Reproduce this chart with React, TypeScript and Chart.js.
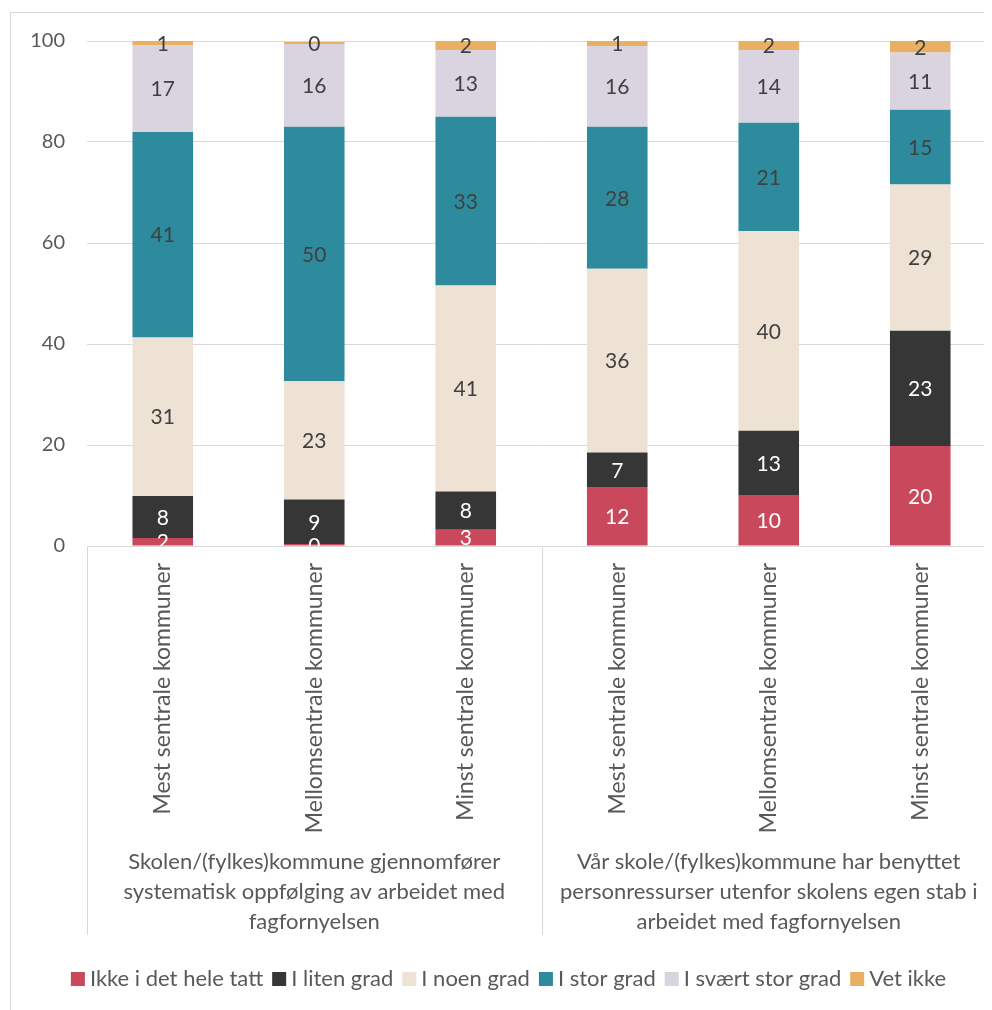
import React, { useEffect, useRef } from 'react';
import { Chart, registerables } from 'chart.js';

Chart.register(...registerables);

const categories = [
  'Mest sentrale kommuner',
  'Mellomsentrale kommuner',
  'Minst sentrale kommuner',
  'Mest sentrale kommuner',
  'Mellomsentrale kommuner',
  'Minst sentrale kommuner',
];

const groupLabels = [
  ['Skolen/(fylkes)kommune gjennomfører', 'systematisk oppfølging av arbeidet med', 'fagfornyelsen'],
  ['Vår skole/(fylkes)kommune har benyttet', 'personressurser utenfor skolens egen stab i', 'arbeidet med fagfornyelsen'],
];

const seriesNames = ['Ikke i det hele tatt', 'I liten grad', 'I noen grad', 'I stor grad', 'I svært stor grad', 'Vet ikke'];

const ikkeIDetHeleTatt = [1.6, 0.4, 3.2, 11.7, 10.1, 19.8];
const iLitenGrad = [8.3, 8.8, 7.6, 6.8, 12.7, 22.8];
const iNoenGrad = [31.4, 23.4, 40.8, 36.4, 39.6, 29.0];
const iStorGrad = [40.7, 50.4, 33.4, 28.1, 21.4, 14.8];
const iSvaertStorGrad = [17.2, 16.4, 13.2, 16.0, 14.4, 11.3];
const vetIkke = [0.8, 0.4, 1.8, 1.0, 1.8, 2.3];

const yTicks = [0, 20, 40, 60, 80, 100];

const seriesValues = [ikkeIDetHeleTatt, iLitenGrad, iNoenGrad, iStorGrad, iSvaertStorGrad, vetIkke];
const seriesColors = ['#C9485B', '#363636', '#EDE2D3', '#2E8B9D', '#DAD3E0', '#E9AF62'];
const labelColors = ['#FFFFFF', '#FFFFFF', '#404040', '#404040', '#404040', '#404040'];

const FONT = 'Lato, "Open Sans", sans-serif';

const overlayPlugin = {
  id: 'overlay',
  afterDatasetsDraw(chart: any) {
    const { ctx, chartArea } = chart;
    ctx.save();
    ctx.beginPath();
    ctx.rect(chartArea.left, chartArea.top - 20, chartArea.right - chartArea.left, chartArea.bottom - chartArea.top + 20);
    ctx.clip();
    ctx.font = `21px ${FONT}`;
    ctx.textAlign = 'center';
    ctx.textBaseline = 'middle';
    chart.data.datasets.forEach((ds: any, di: number) => {
      const meta = chart.getDatasetMeta(di);
      meta.data.forEach((bar: any, i: number) => {
        const v = ds.data[i];
        const cy = (bar.y + bar.base) / 2;
        ctx.fillStyle = labelColors[di];
        ctx.fillText(String(Math.round(v)), bar.x, cy + 1);
      });
    });
    ctx.restore();
  },
  afterDraw(chart: any) {
    const { ctx, chartArea, scales } = chart;
    const x = scales.x;
    ctx.save();
    ctx.strokeStyle = '#D9D9D9';
    ctx.lineWidth = 1;
    const mid = (x.getPixelForValue(2) + x.getPixelForValue(3)) / 2;
    const sepBottom = 922;
    [chartArea.left, mid, chartArea.right].forEach((px: number) => {
      const xx = Math.round(px) + 0.5;
      ctx.beginPath();
      ctx.moveTo(xx, chartArea.bottom);
      ctx.lineTo(xx, sepBottom);
      ctx.stroke();
    });
    ctx.font = `22px ${FONT}`;
    ctx.fillStyle = '#595959';
    ctx.textAlign = 'center';
    ctx.textBaseline = 'middle';
    const centers = [x.getPixelForValue(1), x.getPixelForValue(4)];
    groupLabels.forEach((lines, gi) => {
      lines.forEach((line, li) => {
        ctx.fillText(line, centers[gi], 849 + li * 30);
      });
    });
    const box = 14;
    const gapBoxText = 5;
    const gapItems = 9;
    ctx.font = `22px ${FONT}`;
    ctx.textAlign = 'left';
    const items = chart.data.datasets.map((ds: any) => ({
      text: ds.label,
      color: ds.backgroundColor,
      w: ctx.measureText(ds.label).width,
    }));
    const total =
      items.reduce((s: number, it: any) => s + box + gapBoxText + it.w, 0) + gapItems * (items.length - 1);
    let cx = 497.5 - total / 2;
    const cy = 966;
    items.forEach((it: any) => {
      ctx.fillStyle = it.color;
      ctx.fillRect(cx, cy - box / 2, box, box);
      cx += box + gapBoxText;
      ctx.fillStyle = '#595959';
      ctx.fillText(it.text, cx, cy);
      cx += it.w + gapItems;
    });
    ctx.restore();
  },
};

export default function App() {
  const canvasRef = useRef<HTMLCanvasElement | null>(null);

  useEffect(() => {
    if (!canvasRef.current) return;
    const chart = new Chart(canvasRef.current, {
      type: 'bar',
      data: {
        labels: categories,
        datasets: seriesNames.map((name, i) => ({
          label: name,
          data: seriesValues[i],
          backgroundColor: seriesColors[i],
          borderWidth: 0,
          barPercentage: 0.4,
          categoryPercentage: 1,
        })),
      },
      options: {
        responsive: false,
        animation: false,
        devicePixelRatio: 1,
        layout: { padding: { top: 28, right: 15, bottom: 56, left: 0 } },
        plugins: {
          legend: { display: false },
          tooltip: { enabled: false },
        },
        scales: {
          x: {
            stacked: true,
            grid: { display: false, drawTicks: false },
            border: { display: false },
            ticks: {
              autoSkip: false,
              minRotation: 90,
              maxRotation: 90,
              padding: 17,
              color: '#595959',
              font: { family: FONT, size: 23 },
            },
            afterFit(scale: any) {
              scale.height = 411;
            },
          },
          y: {
            stacked: true,
            min: 0,
            max: 100,
            grid: { color: '#D9D9D9', drawTicks: false },
            border: { display: false },
            afterBuildTicks(scale: any) {
              scale.ticks = yTicks.map((v) => ({ value: v }));
            },
            ticks: {
              padding: 22,
              color: '#595959',
              font: { family: FONT, size: 20 },
            },
            afterFit(scale: any) {
              scale.width = 76;
              scale.paddingTop = 0;
              scale.paddingBottom = 0;
            },
          },
        },
      },
      plugins: [overlayPlugin],
    });
    return () => chart.destroy();
  }, []);

  return (
    <div style={{ position: 'relative', width: 984, height: 1002, overflow: 'hidden' }}>
      <div
        style={{
          position: 'absolute',
          left: 2,
          top: 4,
          width: 1010,
          height: 1010,
          border: '1px solid #D9D9D9',
          background: '#FFFFFF',
        }}
      >
        <canvas ref={canvasRef} width={1000} height={1000} style={{ display: 'block', width: 1000, height: 1000 }} />
      </div>
    </div>
  );
}
